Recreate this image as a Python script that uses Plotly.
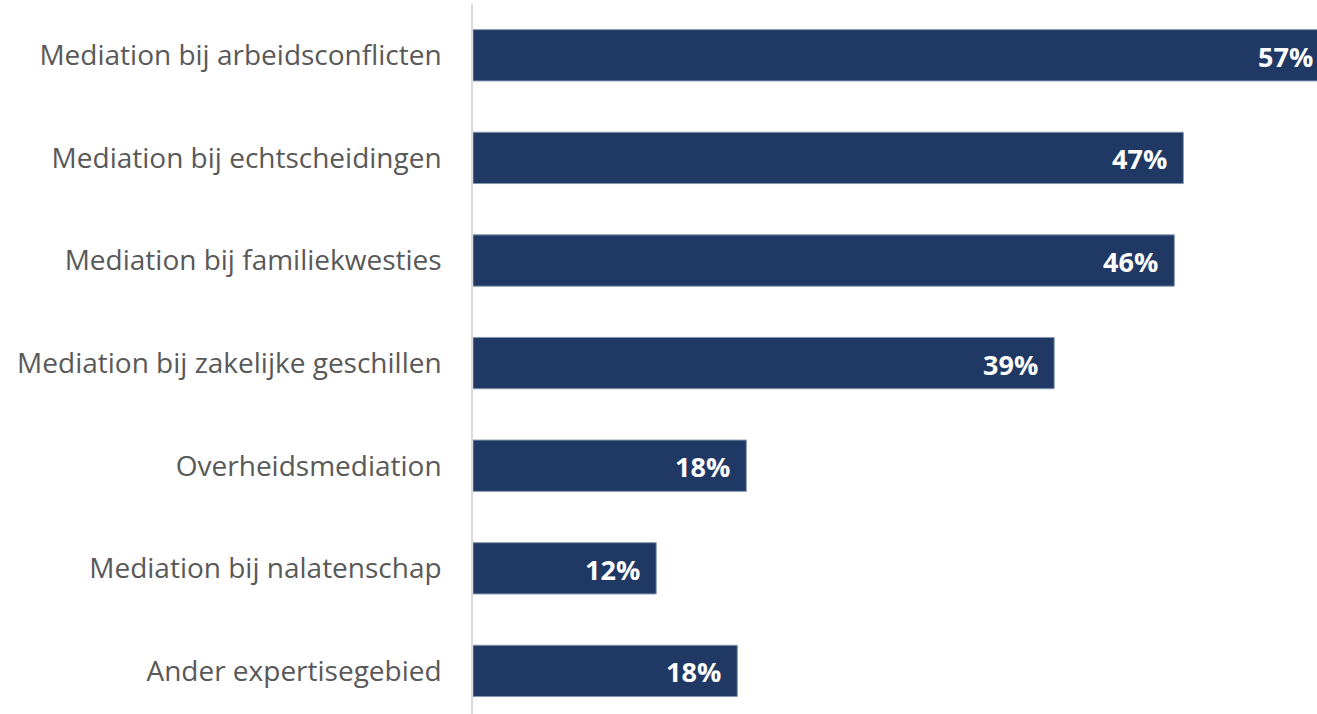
import plotly.graph_objects as go

categories = [
    "Mediation bij arbeidsconflicten",
    "Mediation bij echtscheidingen",
    "Mediation bij familiekwesties",
    "Mediation bij zakelijke geschillen",
    "Overheidsmediation",
    "Mediation bij nalatenschap",
    "Ander expertisegebied",
]
values = [57.0, 47.3, 46.7, 38.7, 18.2, 12.2, 17.6]
value_labels = ["57%", "47%", "46%", "39%", "18%", "12%", "18%"]

BAR = "#203864"
TXT = "#595959"
XMAX = 56.2

fig = go.Figure()
fig.add_trace(go.Bar(
    y=categories, x=values, orientation="h", width=0.5,
    marker=dict(color=BAR, line=dict(color="#8497b0", width=1)),
    hoverinfo="skip",
))
for c, v, t in zip(categories, values, value_labels):
    fig.add_annotation(xref="paper", x=v / XMAX, y=c, text=t, showarrow=False,
                       xanchor="right", xshift=-14, yshift=-1,
                       font=dict(family="Open Sans", size=27, color="white", weight="bold"))

fig.update_layout(
    width=1317, height=714,
    margin=dict(l=473, r=0, t=4, b=0),
    paper_bgcolor="white", plot_bgcolor="white",
    showlegend=False,
    xaxis=dict(range=[0, XMAX], visible=False, showgrid=False, zeroline=False),
    yaxis=dict(
        categoryorder="array", categoryarray=categories,
        range=[6.42, -0.5],
        showline=True, linecolor="#d9d9d9", linewidth=1.5,
        ticks="", ticklabelstandoff=24,
        tickfont=dict(family="Open Sans", size=28, color=TXT),
        showgrid=False, zeroline=False,
    ),
)
fig.write_html("out.html", config={"displayModeBar": False},
               post_script="document.body.style.margin='0';")
